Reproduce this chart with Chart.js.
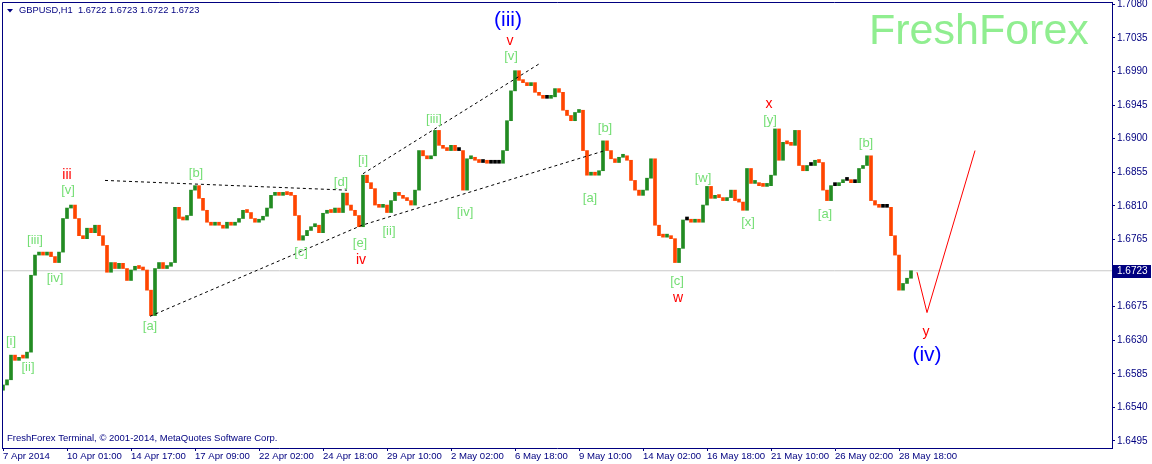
<!DOCTYPE html>
<html>
<head>
<meta charset="utf-8">
<title>GBPUSD,H1</title>
<script src="https://cdn.jsdelivr.net/npm/chart.js@4.4.1/dist/chart.umd.min.js"></script>
<style>
  html, body { margin: 0; padding: 0; background: #fff; }
  #wrap { width: 1152px; height: 464px; }
</style>
</head>
<body>
<div id="wrap"><canvas id="grafico" width="1152" height="464"></canvas></div>
<script>
// GBPUSD H1, a close every 4 hours from 7 Apr 2014 09:00
const stepHours = 4;
const firstOpen = 1.6563;
const closes = [
  // 7 Apr - 10 Apr
  1.6570, 1.6577, 1.6610, 1.6603, 1.6607, 1.6606, 1.6614, 1.6717, 1.6744, 1.6748,
  1.6744, 1.6748, 1.6742, 1.6734, 1.6748, 1.6793, 1.6807, 1.6811, 1.6793, 1.6770,
  1.6766, 1.6780, 1.6774, 1.6784, 1.6770, 1.6757, 1.6721, 1.6734, 1.6726, 1.6733,
  // 11 Apr - 17 Apr
  1.6726, 1.6710, 1.6724, 1.6729, 1.6726, 1.6724, 1.6697, 1.6663, 1.6726, 1.6734,
  1.6726, 1.6729, 1.6734, 1.6808, 1.6793, 1.6791, 1.6797, 1.6831, 1.6837, 1.6820,
  1.6804, 1.6788, 1.6784, 1.6788, 1.6784, 1.6780, 1.6788, 1.6784, 1.6788, 1.6793,
  // 22 Apr - 29 Apr
  1.6804, 1.6801, 1.6793, 1.6788, 1.6791, 1.6796, 1.6807, 1.6824, 1.6828, 1.6824,
  1.6827, 1.6825, 1.6824, 1.6797, 1.6764, 1.6770, 1.6777, 1.6782, 1.6784, 1.6774,
  1.6800, 1.6804, 1.6801, 1.6807, 1.6801, 1.6827, 1.6811, 1.6804, 1.6797, 1.6782,
  1.6851, 1.6841, 1.6833, 1.6811, 1.6808, 1.6811, 1.6801, 1.6817, 1.6828, 1.6824,
  // 30 Apr - 6 May
  1.6820, 1.6817, 1.6811, 1.6831, 1.6884, 1.6877, 1.6873, 1.6877, 1.6911, 1.6891,
  1.6887, 1.6884, 1.6891, 1.6884, 1.6884, 1.6831, 1.6873, 1.6875, 1.6871, 1.6868,
  1.6868, 1.6867, 1.6867, 1.6867, 1.6867, 1.6884, 1.6924, 1.6964, 1.6991, 1.6978,
  1.6975, 1.6971, 1.6975, 1.6962, 1.6958, 1.6954, 1.6954, 1.6956, 1.6967, 1.6962,
  // 8 May - 14 May
  1.6938, 1.6931, 1.6924, 1.6935, 1.6938, 1.6884, 1.6851, 1.6855, 1.6851, 1.6857,
  1.6897, 1.6884, 1.6873, 1.6868, 1.6875, 1.6877, 1.6871, 1.6844, 1.6831, 1.6824,
  1.6831, 1.6847, 1.6873, 1.6784, 1.6770, 1.6768, 1.6769, 1.6766, 1.6734, 1.6753,
  1.6791, 1.6791, 1.6788, 1.6791, 1.6788, 1.6811, 1.6836, 1.6820, 1.6824, 1.6821,
  // 19 May - 29 May
  1.6817, 1.6821, 1.6831, 1.6817, 1.6815, 1.6804, 1.6860, 1.6840, 1.6841, 1.6837,
  1.6836, 1.6837, 1.6851, 1.6913, 1.6871, 1.6895, 1.6893, 1.6891, 1.6911, 1.6864,
  1.6857, 1.6864, 1.6864, 1.6871, 1.6868, 1.6831, 1.6817, 1.6837, 1.6837, 1.6841,
  1.6844, 1.6844, 1.6841, 1.6841, 1.6860, 1.6864, 1.6877, 1.6817, 1.6811, 1.6808,
  1.6808, 1.6808, 1.6770, 1.6744, 1.6697, 1.6706, 1.6713, 1.6723
];

const timeLabels = [
  '7 Apr 2014', '10 Apr 01:00', '14 Apr 17:00', '17 Apr 09:00', '22 Apr 02:00',
  '24 Apr 18:00', '29 Apr 10:00', '2 May 02:00', '6 May 18:00', '9 May 10:00',
  '14 May 02:00', '16 May 18:00', '21 May 10:00', '26 May 02:00', '28 May 18:00'
];
const hoursPerLabel = 64;
const priceTicks = [
  1.6495, 1.6540, 1.6585, 1.6630, 1.6675, 1.6720, 1.6765,
  1.6810, 1.6855, 1.6900, 1.6945, 1.6990, 1.7035, 1.7080
];
const bidPrice = 1.6723;
const headerQuote = ['1.6722', '1.6723', '1.6722', '1.6723'];

// lineas de tendencia [hora, precio]
const trianguloSup = [[102, 1.6844], [344, 1.6831]];
const trianguloInf = [[147, 1.6662], [359, 1.6784], [602, 1.6884]];
const canalSup = [[360, 1.6853], [536, 1.7000]];
const proyeccion = [[914, 1.6721], [924, 1.6667], [972, 1.6884]];

// etiquetas de ondas [hora, precio, texto, tipo]
const ondas = [
  [8, 1.6629, '[i]', 'g'], [25, 1.6593, '[ii]', 'g'], [32, 1.6764, '[iii]', 'g'],
  [52, 1.6713, '[iv]', 'g'], [65, 1.6831, '[v]', 'g'], [64, 1.6851, 'iii', 'r'],
  [147, 1.6649, '[a]', 'g'], [193, 1.6853, '[b]', 'g'], [298, 1.6748, '[c]', 'g'],
  [338, 1.6841, '[d]', 'g'], [357, 1.6760, '[e]', 'g'], [358, 1.6737, 'iv', 'r'],
  [360, 1.6871, '[i]', 'g'], [386, 1.6776, '[ii]', 'g'], [431, 1.6926, '[iii]', 'g'],
  [462, 1.6801, '[iv]', 'g'], [508, 1.7010, '[v]', 'g'], [507, 1.7031, 'v', 'r'],
  [505, 1.7058, '(iii)', 'b'], [587, 1.6820, '[a]', 'g'], [602, 1.6914, '[b]', 'g'],
  [674, 1.6709, '[c]', 'g'], [675, 1.6686, 'w', 'r'], [700, 1.6847, '[w]', 'g'],
  [745, 1.6788, '[x]', 'g'], [767, 1.6924, '[y]', 'g'], [766, 1.6946, 'x', 'r'],
  [822, 1.6799, '[a]', 'g'], [863, 1.6894, '[b]', 'g'], [923, 1.6641, 'y', 'r'],
  [924, 1.6610, '(iv)', 'b']
];

const NAVY = '#000080';
const UP = '#228B22';
const DOWN = '#FF4500';
const DOJI = '#000000';
const FONT = "'Liberation Sans', Arial, sans-serif";

const barras = closes.map((c, i) => {
  const prev = i === 0 ? firstOpen : closes[i - 1];
  return { x: i * stepHours, y: [prev, c] };
});
const coloresBarras = closes.map((c, i) => {
  const prev = i === 0 ? firstOpen : closes[i - 1];
  return c > prev ? UP : (c < prev ? DOWN : DOJI);
});

const aPuntos = arr => arr.map(([x, y]) => ({ x, y }));

function lineaDataset(pts, color, dash) {
  return {
    type: 'line',
    data: aPuntos(pts),
    borderColor: color,
    borderWidth: 1,
    borderDash: dash,
    pointRadius: 0,
    fill: false,
    tension: 0,
    order: 1
  };
}

const colorOnda = { g: '#74DE74', r: '#FF0000', b: '#0000FF' };
const tamOnda = { g: 13, r: 14, b: 21 };

// Plugin para los textos y el marco estilo MetaTrader
const decoracion = {
  id: 'decoracion',
  beforeDraw(chart) {
    const ctx = chart.ctx;
    ctx.save();
    ctx.fillStyle = '#ffffff';
    ctx.fillRect(0, 0, chart.width, chart.height);
    ctx.restore();
  },
  beforeDatasetsDraw(chart) {
    const ctx = chart.ctx;
    ctx.save();
    ctx.font = '43px ' + FONT;
    ctx.fillStyle = '#90EE90';
    ctx.textAlign = 'left';
    ctx.textBaseline = 'alphabetic';
    ctx.fillText('FreshForex', 869, 44);
    ctx.restore();
  },
  afterDatasetsDraw(chart) {
    const ctx = chart.ctx;
    const xs = chart.scales.x, ys = chart.scales.y;
    ctx.save();
    ctx.textAlign = 'center';
    ctx.textBaseline = 'middle';
    ondas.forEach(([h, p, txt, tipo]) => {
      ctx.font = tamOnda[tipo] + 'px ' + FONT;
      ctx.fillStyle = colorOnda[tipo];
      ctx.fillText(txt, xs.getPixelForValue(h), ys.getPixelForValue(p));
    });
    ctx.restore();
  },
  afterDraw(chart) {
    const ctx = chart.ctx;
    const a = chart.chartArea;
    const ys = chart.scales.y;
    ctx.save();
    // marco izquierdo y superior
    ctx.strokeStyle = NAVY;
    ctx.lineWidth = 1;
    ctx.beginPath();
    ctx.moveTo(a.left + 0.5, a.bottom);
    ctx.lineTo(a.left + 0.5, a.top + 0.5);
    ctx.lineTo(a.right, a.top + 0.5);
    ctx.stroke();

    // cabecera
    ctx.fillStyle = NAVY;
    ctx.beginPath();
    ctx.moveTo(7, 9);
    ctx.lineTo(13, 9);
    ctx.lineTo(10, 12.5);
    ctx.closePath();
    ctx.fill();
    ctx.font = '9.3px ' + FONT;
    ctx.textAlign = 'left';
    ctx.textBaseline = 'middle';
    ctx.fillText('GBPUSD,H1  ' + headerQuote.join(' '), 19, 10.5);

    // copyright
    ctx.font = '9.5px ' + FONT;
    ctx.fillText('FreshForex Terminal, \u00A9 2001-2014, MetaQuotes Software Corp.', 7, 438);

    // caja del precio actual
    ctx.font = '10px ' + FONT;
    const yb = Math.round(ys.getPixelForValue(bidPrice));
    ctx.fillStyle = NAVY;
    ctx.fillRect(a.right + 1, yb - 6, 38, 13);
    ctx.fillStyle = '#ffffff';
    ctx.fillText(bidPrice.toFixed(4), a.right + 5, yb + 0.5);
    ctx.restore();
  }
};

new Chart(document.getElementById('grafico'), {
  type: 'bar',
  data: {
    datasets: [
      {
        type: 'line',
        data: [{ x: -1, y: bidPrice }, { x: 1109, y: bidPrice }],
        borderColor: '#C8C8C8',
        borderWidth: 1,
        pointRadius: 0,
        order: 10
      },
      {
        type: 'bar',
        label: 'GBPUSD,H1',
        data: barras,
        backgroundColor: coloresBarras,
        barThickness: 3,
        minBarLength: 3,
        grouped: false,
        order: 5
      },
      lineaDataset(trianguloSup, '#000000', [3, 3]),
      lineaDataset(trianguloInf, '#000000', [3, 3]),
      lineaDataset(canalSup, '#000000', [3, 3]),
      lineaDataset(proyeccion, '#FF0000', [])
    ]
  },
  options: {
    responsive: false,
    animation: false,
    devicePixelRatio: 1,
    events: [],
    layout: { padding: { left: 2, top: 2, right: 0, bottom: 0 } },
    plugins: { legend: { display: false }, tooltip: { enabled: false } },
    scales: {
      x: {
        type: 'linear',
        position: 'bottom',
        min: -1,
        max: 1109,
        offset: false,
        grid: { offset: false, drawOnChartArea: false, drawTicks: true, tickLength: 3, color: NAVY },
        border: { color: NAVY },
        afterBuildTicks: scale => {
          scale.ticks = timeLabels.map((_, i) => ({ value: i * hoursPerLabel }));
        },
        afterFit: scale => {
          scale.height = 16;
          scale.paddingLeft = 0;
          scale.paddingRight = 0;
        },
        ticks: {
          autoSkip: false,
          maxRotation: 0,
          align: 'start',
          padding: 0,
          color: NAVY,
          font: { family: FONT, size: 9.6 },
          callback: v => timeLabels[Math.round(v / hoursPerLabel)]
        }
      },
      y: {
        type: 'linear',
        position: 'right',
        min: 1.64856,
        max: 1.70830,
        grid: { drawOnChartArea: false, drawTicks: true, tickLength: 3, color: NAVY },
        border: { color: NAVY },
        afterBuildTicks: scale => {
          scale.ticks = priceTicks.map(v => ({ value: v }));
        },
        afterFit: scale => {
          scale.width = 40;
          scale.paddingTop = 0;
          scale.paddingBottom = 0;
        },
        ticks: {
          padding: 2,
          color: NAVY,
          font: { family: FONT, size: 10 },
          callback: v => v.toFixed(4)
        }
      }
    }
  },
  plugins: [decoracion]
});
</script>
</body>
</html>
